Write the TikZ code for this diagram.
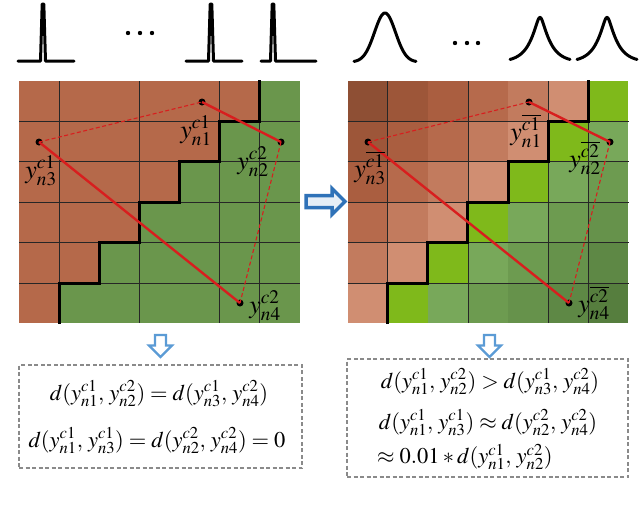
\documentclass[tikz,border=0pt]{standalone}
\usepackage{mathptmx}
\definecolor{brL}{HTML}{B5694A}
\definecolor{grL}{HTML}{6A964C}
\definecolor{br1}{HTML}{D08E72}
\definecolor{br2}{HTML}{C27B5E}
\definecolor{br3}{HTML}{B66A4C}
\definecolor{br4}{HTML}{AA5E40}
\definecolor{br5}{HTML}{9D5639}
\definecolor{br6}{HTML}{8E4F34}
\definecolor{gr0}{HTML}{7FB91B}
\definecolor{gr1}{HTML}{78A85A}
\definecolor{gr2}{HTML}{6D9B50}
\definecolor{gr3}{HTML}{66924B}
\definecolor{gr4}{HTML}{5E8845}
\definecolor{gr5}{HTML}{567E3E}
\definecolor{redln}{HTML}{D81E1E}
\definecolor{arrblue}{HTML}{2F72B8}
\definecolor{arrlight}{HTML}{5B9BD5}
\definecolor{boxgray}{HTML}{8A8A8A}
\tikzset{
  pulse/.style={line width=3pt, line join=round, line cap=round, black},
  thin grid/.style={line width=0.8pt, draw=black!85},
  boundary/.style={line width=3pt, black, line join=miter},
  dot/.style={circle, fill=black, inner sep=0pt, minimum size=7pt},
  redsolid/.style={line width=2.4pt, redln},
  reddash/.style={line width=1.1pt, redln, dash pattern=on 4pt off 2.5pt},
  lbl/.style={inner sep=0pt, font=\fontsize{26}{28}\selectfont},
  dbox/.style={draw=boxgray, line width=1.2pt, dash pattern=on 4pt off 2.5pt, inner sep=0pt},
  frm/.style={inner sep=0pt, font=\fontsize{22.5}{26}\selectfont},
  bigarrow/.style={draw=arrblue, line width=3.5pt, fill=arrblue!12, line join=miter},
  downarrow/.style={draw=arrlight, line width=2.2pt, fill=white, line join=miter},
}
\begin{document}
\begin{tikzpicture}[x=1pt,y=-1pt]
\useasboundingbox (0,0) rectangle (640,512);
\fill[white] (0,0) rectangle (640,512);

% ---------- top pulses ----------
\foreach \cx/\xa/\xb in {43/18/74, 211/186/242, 273/261/316}{
  \draw[pulse] (\xa,61) -- ({\cx-2.5},61) -- ({\cx-0.8},4) -- ({\cx+0.8},4) -- ({\cx+2.5},61) -- (\xb,61);
}
\foreach \dx in {128,140,152}{ \fill (\dx,33) circle (2.2pt); }

% ---------- top Gaussians ----------
\draw[pulse] plot[domain=-31:31, samples=80, smooth] ({385+\x},{62-49*exp(-0.5*(\x/10.5)*(\x/10.5))});
\foreach \cx in {540,607}{
  \draw[pulse] plot[domain=-30:30, samples=80, smooth] ({\cx+\x},{62-44*exp(-sqrt(\x*\x+9)/9.5+0.33)});
}
\foreach \dx in {455,467,478}{ \fill (\dx,43) circle (2.2pt); }

% ---------- left grid ----------
\foreach \r in {0,...,5}{
  \foreach \c in {0,...,6}{
    \pgfmathsetmacro\xa{19+40.14*\c}
    \pgfmathsetmacro\xb{19+40.14*(\c+1)}
    \pgfmathsetmacro\ya{81+40.4*\r}
    \pgfmathsetmacro\yb{81+40.4*(\r+1)}
    \pgfmathtruncatemacro\k{\c-(6-\r)}
    \ifnum\k<0
      \fill[brL] (\xa,\ya) rectangle (\xb,\yb);
    \else
      \fill[grL] (\xa,\ya) rectangle (\xb,\yb);
    \fi
  }
}
% ---------- right grid ----------
\begin{scope}[xshift=328.5pt]
\foreach \r in {0,...,5}{
  \foreach \c in {0,...,6}{
    \pgfmathsetmacro\xa{19+40.14*\c}
    \pgfmathsetmacro\xb{19+40.14*(\c+1)}
    \pgfmathsetmacro\ya{81+40.4*\r}
    \pgfmathsetmacro\yb{81+40.4*(\r+1)}
    \pgfmathtruncatemacro\k{\c-(6-\r)}
    \ifnum\k<0
      \pgfmathtruncatemacro\kk{-\k}
      \fill[br\kk] (\xa,\ya) rectangle (\xb,\yb);
    \else
      \fill[gr\k] (\xa,\ya) rectangle (\xb,\yb);
    \fi
  }
}
\end{scope}

% grid lines and boundary for both panels
\foreach \sh in {0,328.5}{
  \begin{scope}[xshift=\sh pt]
    \foreach \gx in {59.1,139.4,219.7,259.8}{ \draw[thin grid] (\gx,81) -- (\gx,323.4); }
    \foreach \gy in {121.4,161.8,202.2,242.6,283}{ \draw[thin grid] (19,\gy) -- (300,\gy); }
    \draw[boundary] (259.8,80) -- (259.8,121.4) -- (219.7,121.4) -- (219.7,161.8) -- (179.6,161.8)
      -- (179.6,202.2) -- (139.4,202.2) -- (139.4,242.6) -- (99.3,242.6) -- (99.3,283)
      -- (59.1,283) -- (59.1,324);
  \end{scope}
}

% ---------- left points ----------
\node[dot] (a1) at (202,102) {};
\node[dot] (a2) at (281,142) {};
\node[dot] (a3) at (39,142) {};
\node[dot] (a4) at (240,303) {};
\draw[redsolid] (a1.center) -- (a2.center);
\draw[redsolid] (a3.center) -- (a4.center);
\draw[reddash] (a3.center) -- (a1.center);
\draw[reddash] (a2.center) -- (a4.center);
\node[lbl] (la1) at (196,131) {$y^{c1}_{n1}$};
\node[lbl] (la2) at (253,162) {$y^{c2}_{n2}$};
\node[lbl] (la3) at (41,171) {$y^{c1}_{n3}$};
\node[lbl] (la4) at (265,306) {$y^{c2}_{n4}$};

% ---------- right points ----------
\node[dot] (b1) at (529,102) {};
\node[dot] (b2) at (610,142) {};
\node[dot] (b3) at (368,142) {};
\node[dot] (b4) at (569,303) {};
\draw[redsolid] (b1.center) -- (b2.center);
\draw[redsolid] (b3.center) -- (b4.center);
\draw[reddash] (b3.center) -- (b1.center);
\draw[reddash] (b2.center) -- (b4.center);
\node[lbl] (lb1) at (526,131) {$y^{\overline{c1}}_{n1}$};
\node[lbl] (lb2) at (585,158) {$y^{\overline{c2}}_{n2}$};
\node[lbl] (lb3) at (370,168) {$y^{\overline{c1}}_{n3}$};
\node[lbl] (lb4) at (594,303) {$y^{\overline{c2}}_{n4}$};

% ---------- arrows ----------
\draw[bigarrow] (306,195.5) -- (332,195.5) -- (332,188.5) -- (345,201.5) -- (332,214.5) -- (332,207.5) -- (306,207.5) -- cycle;
\draw[downarrow] (155,335) -- (166,335) -- (166,345.5) -- (172,345.5) -- (160.5,357) -- (149,345.5) -- (155,345.5) -- cycle;
\draw[downarrow] (484,335) -- (495,335) -- (495,345.5) -- (501,345.5) -- (489.5,357) -- (478,345.5) -- (484,345.5) -- cycle;

% ---------- boxes ----------
\node[dbox, minimum width=283pt, minimum height=103pt] (boxL) at (160.5,416.5) {};
\node[dbox, minimum width=281pt, minimum height=118pt] (boxR) at (487.5,418) {};

\node[frm] (fl1) at (159,394) {$d(y^{c1}_{n1},\,y^{c2}_{n2})=d(y^{c1}_{n3},\,y^{c2}_{n4})$};
\node[frm] (fl2) at (157,441) {$d(y^{c1}_{n1},\,y^{c1}_{n3})=d(y^{c2}_{n2},\,y^{c2}_{n4})=0$};

\node[frm] (fr1) at (490,382) {$d(y^{c1}_{n1},\,y^{c2}_{n2})>d(y^{c1}_{n3},\,y^{c2}_{n4})$};
\node[frm] (fr2) at (488,423) {$d(y^{c1}_{n1},\,y^{c1}_{n3})\approx d(y^{c2}_{n2},\,y^{c2}_{n4})$};
\node[frm, anchor=west] (fr3) at (377,457) {$\approx 0.01*d(y^{c1}_{n1},\,y^{c2}_{n2})$};
\end{tikzpicture}
\end{document}
